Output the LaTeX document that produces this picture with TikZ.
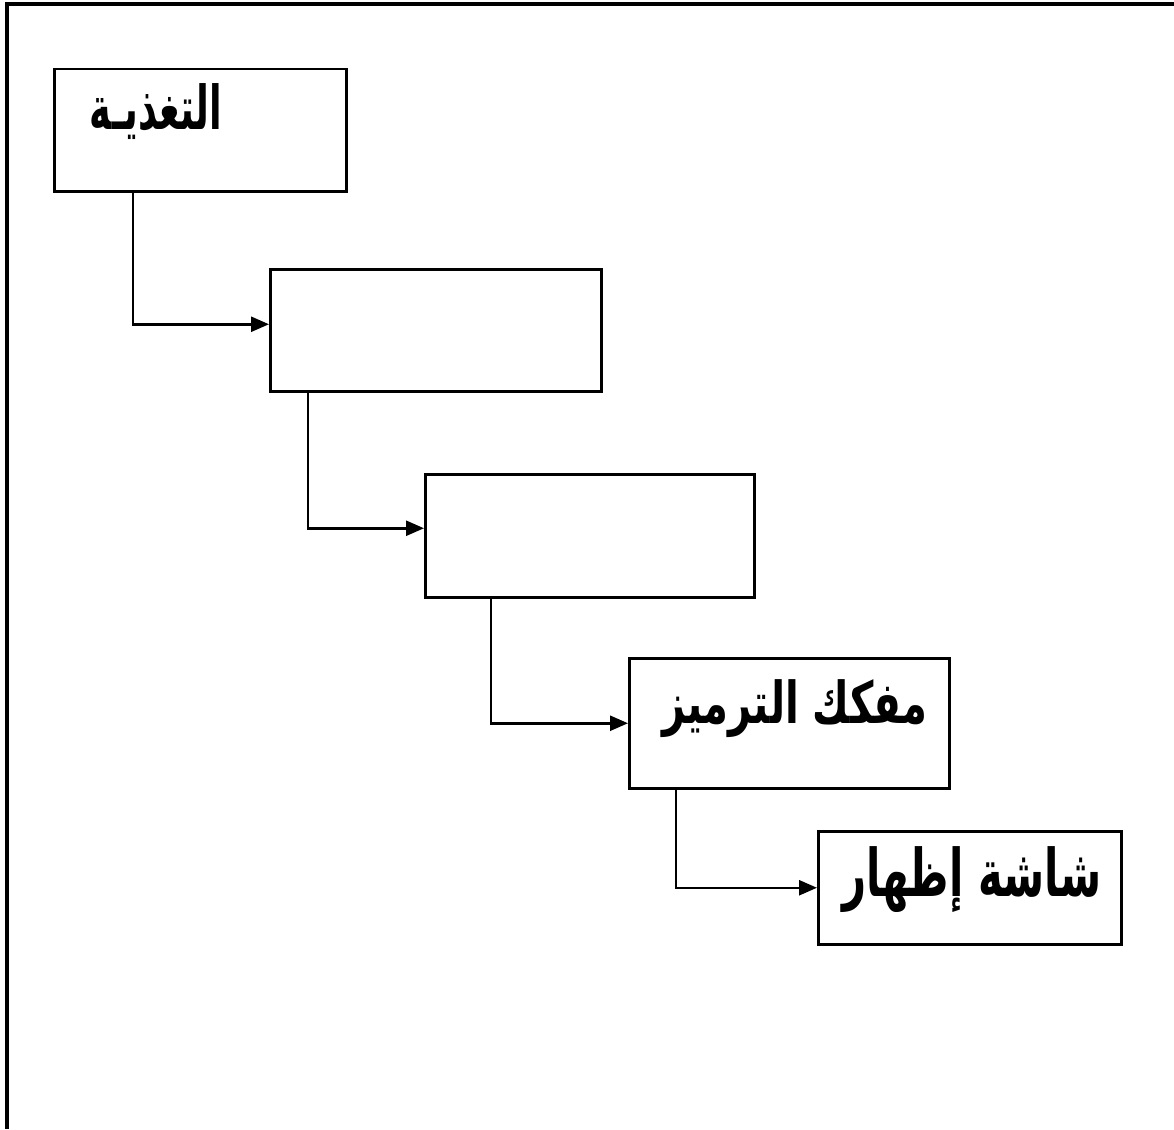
\documentclass[tikz,border=0pt]{standalone}
\usepackage{fontspec}
\usetikzlibrary{arrows.meta}
\TeXXeTstate=1
\newfontfamily\arabicfont[Script=Arabic]{DejaVu Sans}
\begin{document}
\begin{tikzpicture}[x=1pt,y=-1pt,
  blk/.style={draw=black,line width=2.5pt,rectangle,inner sep=0pt,anchor=north west},
  lbl/.style={inner sep=0pt,font=\arabicfont\bfseries\fontsize{38}{44}\selectfont},
  arr/.style={draw=black,line width=2.5pt,-{Triangle[length=18pt,width=15pt]}},
  frame/.style={draw=black,line width=4pt}]
\useasboundingbox (0,0) rectangle (1174,1129);
\fill[white] (0,0) rectangle (1174,1129);
% frame (top and left sides only)
\coordinate (ftl) at (7,4.5);
\coordinate (ftr) at (1174,4.5);
\coordinate (fbl) at (7,1129);
\draw[frame] (ftr) -- (ftl |- ftr) -- (fbl);
% boxes
\node[blk,minimum width=292pt,minimum height=122pt] (b1) at (53,68) {};
\node[blk,minimum width=331pt,minimum height=122pt] (b2) at (269,268) {};
\node[blk,minimum width=329pt,minimum height=123pt] (b3) at (424,473) {};
\node[blk,minimum width=320pt,minimum height=130pt] (b4) at (628,657) {};
\node[blk,minimum width=303pt,minimum height=113pt] (b5) at (817,830) {};
% labels
\node[lbl] (t1) at (156,112) {\resizebox*{132pt}{56pt}{\beginR التغذيـة\endR}};
\node[lbl] (t4) at (795,709) {\resizebox*{265pt}{58pt}{\beginR مفكك الترميز\endR}};
\node[lbl] (t5) at (972,880) {\resizebox*{259pt}{66pt}{\beginR شاشة إظهار\endR}};
% connectors
\draw[arr] ([xshift=80pt]b1.south west) |- ([yshift=6pt]b2.west);
\draw[arr] ([xshift=39pt]b2.south west) |- ([yshift=7.5pt]b3.west);
\draw[arr] ([xshift=67pt]b3.south west) |- (b4.west);
\draw[arr] ([xshift=48pt]b4.south west) |- (b5.west);
\end{tikzpicture}
\end{document}
